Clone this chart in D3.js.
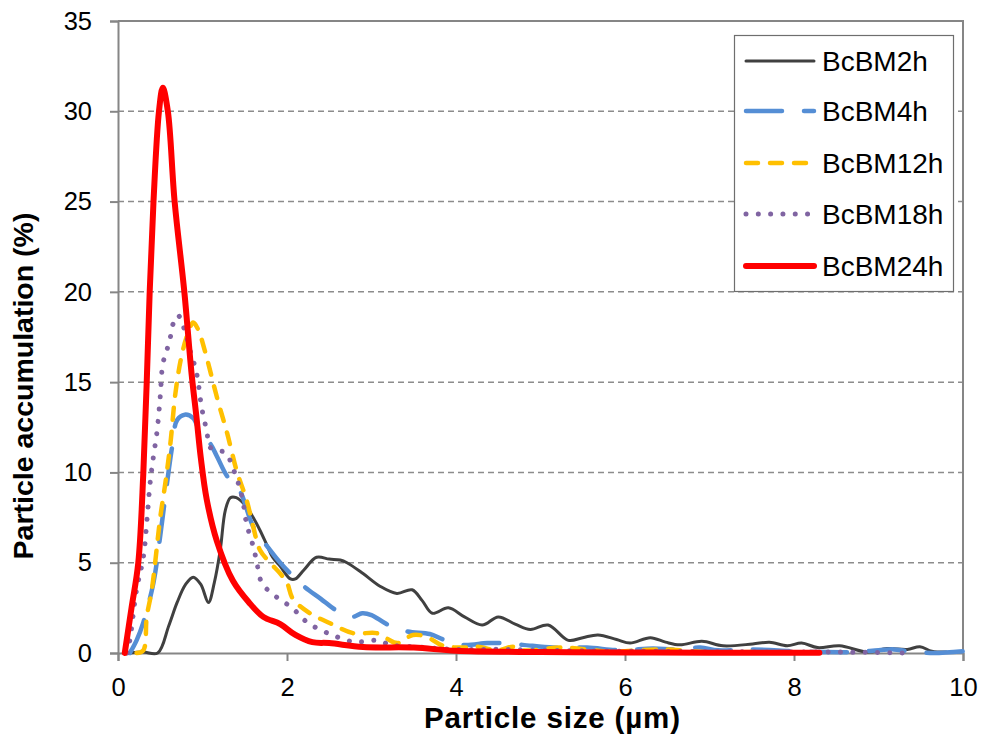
<!DOCTYPE html>
<html>
<head>
<meta charset="utf-8">
<script src="https://cdn.jsdelivr.net/npm/d3@7"></script>
<style>
  html, body { margin: 0; padding: 0; background: #fff; }
  svg { display: block; }
  text { font-family: "Liberation Sans", Arial, sans-serif; fill: #000; }
</style>
</head>
<body>
<div id="chart"></div>
<script>
// ---------- data ----------
const seriesNames = ["BcBM2h", "BcBM4h", "BcBM12h", "BcBM18h", "BcBM24h"];

const x2h = [0.14,0.3,0.47,0.6,0.7,0.8,0.89,0.98,1.07,1.14,1.21,1.27,1.33,1.4,1.52,1.6,1.68,1.76,1.83,1.92,2.04,2.1,2.2,2.35,2.5,2.63,2.71,2.9,3.1,3.3,3.48,3.6,3.72,3.91,4.1,4.31,4.5,4.7,4.88,5.09,5.33,5.5,5.68,5.9,6.06,6.3,6.48,6.65,6.91,7.16,7.51,7.71,7.92,8.09,8.28,8.54,8.88,9.1,9.34,9.49,9.63,9.8];
const y2h = [0,0.05,0,1.5,2.8,3.8,4.2,3.8,2.8,3.9,5.7,7.9,8.6,8.6,8.1,7.5,6.8,6.0,5.3,4.8,4.1,4.1,4.6,5.3,5.2,5.15,5.0,4.4,3.7,3.3,3.5,2.9,2.2,2.5,2.0,1.55,2.0,1.6,1.3,1.55,0.7,0.85,1.0,0.75,0.55,0.85,0.6,0.45,0.65,0.4,0.5,0.6,0.4,0.55,0.3,0.4,0.05,0.25,0.2,0.35,0.1,0.05];

const x4h = [0.14,0.22,0.3,0.42,0.5,0.58,0.64,0.7,0.79,0.89,0.99,1.09,1.17,1.29,1.44,1.6,1.8,1.92,2.04,2.21,2.4,2.57,2.77,2.89,3.0,3.18,3.42,3.69,3.85,4.08,4.37,4.54,4.79,5.15,5.55,5.94,6.33,6.6,6.89,7.1,7.5,8.0,8.35,8.7,9.0,9.18,9.34,9.65,10.0];
const y4h = [0,0.7,1.7,3.9,6.5,9.4,11.4,12.9,13.2,13.0,12.0,11.6,10.9,9.8,9.0,7.0,5.7,5.0,4.4,3.65,3.0,2.4,2.0,2.2,2.1,1.6,1.2,1.05,0.75,0.45,0.55,0.55,0.45,0.3,0.3,0.15,0.25,0.2,0.3,0.15,0.2,0.1,0.05,0.05,0.15,0.2,0.1,0,0.1];

const x12h = [0.22,0.3,0.34,0.40,0.50,0.56,0.62,0.68,0.75,0.82,0.89,0.95,1.03,1.18,1.29,1.41,1.52,1.6,1.68,1.8,1.92,2.0,2.07,2.27,2.51,2.78,3.06,3.18,3.31,3.49,3.65,3.85,4.08,4.25,4.49,4.68,4.8,5.27,5.75,6.0,6.4,7.0,7.5,8.0];
const y12h = [0,0.15,2.0,3.5,7.5,9.4,11.6,14.4,16.4,17.6,18.3,17.9,16.7,14.0,12.2,10.0,8.5,7.0,5.7,5.0,4.4,3.9,3.0,2.2,1.65,1.1,1.1,0.8,0.55,1.0,0.9,0.4,0.3,0.35,0.15,0.35,0.15,0.3,0.1,0.1,0.2,0.05,0.05,0.02];

const x18h = [0.11,0.14,0.22,0.30,0.34,0.38,0.42,0.46,0.50,0.53,0.58,0.62,0.65,0.71,0.78,0.85,0.93,0.99,1.05,1.09,1.18,1.27,1.38,1.47,1.52,1.60,1.64,1.70,1.82,1.94,2.06,2.15,2.25,2.39,2.53,2.65,2.8,2.94,3.08,3.22,3.49,4.0,4.5,5.0,6.0,7.0,8.0,8.5,9.0,9.3];
const y18h = [0,0.7,3.5,5.3,7.2,9.4,10.9,12.2,14.2,16.0,16.8,17.5,18.2,18.7,18.0,16.8,15.5,13.6,12.3,11.4,11.2,11.1,10.0,8.6,7.2,5.9,5.1,3.9,3.3,2.9,2.5,2.1,1.65,1.3,1.0,0.8,0.6,0.65,0.7,0.45,0.35,0.2,0.2,0.15,0.1,0.08,0.05,0.05,0.03,0];

const x24h = [0.08,0.16,0.24,0.30,0.34,0.375,0.42,0.485,0.53,0.59,0.67,0.785,0.87,0.93,0.98,1.05,1.17,1.36,1.55,1.72,1.92,2.1,2.3,2.5,2.9,3.5,4.0,5.0,6.0,7.0,8.3];
const y24h = [0,2.5,5,10,15,20,25,30,31.3,30,25,20,15.5,13,10.8,8.5,6.2,4.0,2.8,2.0,1.6,1.0,0.6,0.55,0.33,0.3,0.12,0.05,0.03,0.02,0.02];

const xTicks = [0, 2, 4, 6, 8, 10];
const yTicks = [0, 5, 10, 15, 20, 25, 30, 35];
const xTitle = "Particle size (µm)";
const yTitle = "Particle accumulation (%)";

// ---------- styles ----------
const styles = {
  BcBM2h:  { color: "#404040", width: 3,   dash: null,      cap: "round" },
  BcBM4h:  { color: "#558ED5", width: 4.5, dash: "36,22",   cap: "round" },
  BcBM12h: { color: "#FFC000", width: 4.5, dash: "12,12",   cap: "round" },
  BcBM18h: { color: "#8064A2", width: 5,   dash: "0.01,12.3", cap: "round" },
  BcBM24h: { color: "#FF0000", width: 6,   dash: null,      cap: "round" }
};

const xs = [x2h, x4h, x12h, x18h, x24h];
const ys = [y2h, y4h, y12h, y18h, y24h];
const series = seriesNames.map((n, i) => ({ name: n, pts: xs[i].map((x, j) => [x, ys[i][j]]) }));

// ---------- layout ----------
const W = 984, H = 734;
const L = 118, R = 963, T = 21, B = 653;

const svg = d3.select("#chart").append("svg").attr("width", W).attr("height", H);
svg.append("rect").attr("width", W).attr("height", H).attr("fill", "#fff");

const x = d3.scaleLinear().domain([0, 10]).range([L, R]);
const y = d3.scaleLinear().domain([0, 35]).range([B, T]);

// gridlines
svg.append("g").selectAll("line").data(yTicks.filter(t => t > 0 && t < 35)).join("line")
  .attr("x1", L).attr("x2", R).attr("y1", d => y(d)).attr("y2", d => y(d))
  .attr("stroke", "#8c8c8c").attr("stroke-width", 1.5).attr("stroke-dasharray", "6,4");

// plot border (top/right)
svg.append("path")
  .attr("d", `M${L},${T}H${R}V${B}`)
  .attr("fill", "none").attr("stroke", "#868686").attr("stroke-width", 2);

// axes
const yAxis = d3.axisLeft(y).tickValues(yTicks).tickSize(8).tickPadding(18).tickFormat(d3.format("d"));
const xAxis = d3.axisBottom(x).tickValues(xTicks).tickSize(8).tickPadding(17).tickFormat(d3.format("d"));

const gy = svg.append("g").attr("transform", `translate(${L},0)`).call(yAxis);
const gx = svg.append("g").attr("transform", `translate(0,${B})`).call(xAxis);
[gy, gx].forEach(g => {
  g.select(".domain").attr("stroke", "#868686").attr("stroke-width", 2);
  g.selectAll(".tick line").attr("stroke", "#868686").attr("stroke-width", 2);
  g.selectAll(".tick text").attr("font-size", 25.5).attr("font-family", "Liberation Sans, Arial, sans-serif").attr("fill", "#000");
});

// lines
const line = d3.line().x(d => x(d[0])).y(d => y(d[1])).curve(d3.curveCatmullRom.alpha(0.5));
svg.append("g").selectAll("path").data(series).join("path")
  .attr("d", d => line(d.pts))
  .attr("fill", "none")
  .attr("stroke", d => styles[d.name].color)
  .attr("stroke-width", d => styles[d.name].width)
  .attr("stroke-dasharray", d => styles[d.name].dash)
  .attr("stroke-linecap", d => styles[d.name].cap)
  .attr("stroke-linejoin", "round");

// axis titles
svg.append("text")
  .attr("x", 552).attr("y", 728)
  .attr("text-anchor", "middle")
  .attr("font-size", 29.5).attr("font-weight", "bold")
  .attr("textLength", 256).attr("lengthAdjust", "spacing")
  .text(xTitle);

svg.append("text")
  .attr("transform", "translate(33,386) rotate(-90)")
  .attr("text-anchor", "middle")
  .attr("font-size", 28.5).attr("font-weight", "bold")
  .text(yTitle);

// legend
const lg = svg.append("g");
lg.append("rect").attr("x", 734.5).attr("y", 35.5).attr("width", 219).attr("height", 256)
  .attr("fill", "#fff").attr("stroke", "#6e6e6e").attr("stroke-width", 1.2);
const rowY = [61, 111, 163, 214, 266];
seriesNames.forEach((n, i) => {
  const s = styles[n];
  lg.append("line")
    .attr("x1", 746).attr("x2", 814).attr("y1", rowY[i]).attr("y2", rowY[i])
    .attr("stroke", s.color).attr("stroke-width", s.width)
    .attr("stroke-dasharray", s.dash).attr("stroke-linecap", s.cap);
  lg.append("text")
    .attr("x", 822).attr("y", rowY[i]).attr("dy", "0.36em")
    .attr("font-size", 28)
    .text(n);
});
</script>
</body>
</html>
